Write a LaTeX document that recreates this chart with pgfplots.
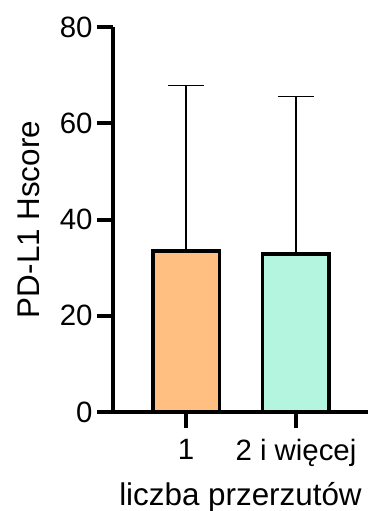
\documentclass[border=0pt]{standalone}
\usepackage{pgfplots}
\pgfplotsset{compat=1.18}
\usepackage{fontspec}
\setmainfont{Liberation Sans}
\definecolor{barA}{HTML}{FFBF80}
\definecolor{barB}{HTML}{B3F5DE}
\begin{document}
\begin{tikzpicture}
\useasboundingbox (-113bp,-99bp) rectangle (255bp,412bp);
\begin{axis}[
  at={(0,0)}, anchor=south west,
  scale only axis, width=255bp, height=385bp,
  xmin=-0.664, xmax=1.655, ymin=0, ymax=80,
  axis x line*=bottom, axis y line*=left,
  axis line style={line width=4bp, -},
  xtick={0,1}, xticklabels={1, 2 i więcej},
  ytick={0,20,40,60,80},
  tick style={line width=4bp, black},
  tick align=outside, major tick length=16bp,
  ticklabel style={font=\fontsize{29.5}{32}\selectfont},
  /pgf/number format/assume math mode=true,
  yticklabel style={xshift=-1bp},
  xticklabel style={yshift=-8bp},
  xlabel={liczba przerzutów}, ylabel={PD-L1 Hscore},
  label style={font=\fontsize{31.5}{33}\selectfont},
  xlabel style={yshift=-9bp},
  ylabel style={yshift=13bp},
  clip=false,
]
\addplot[ybar, bar width=66.5bp, fill=barA, draw=black, line width=3.5bp,
  error bars/.cd, y dir=plus, y explicit,
  error bar style={line width=1.5bp, black},
  error mark options={rotate=90, mark size=18bp, line width=1.5bp, black}]
  coordinates {(0,33.5) +- (0,34.3)};
\addplot[ybar, bar width=66.5bp, fill=barB, draw=black, line width=3.5bp,
  error bars/.cd, y dir=plus, y explicit,
  error bar style={line width=1.5bp, black},
  error mark options={rotate=90, mark size=18bp, line width=1.5bp, black}]
  coordinates {(1,32.8) +- (0,32.8)};
\end{axis}
\end{tikzpicture}
\end{document}
